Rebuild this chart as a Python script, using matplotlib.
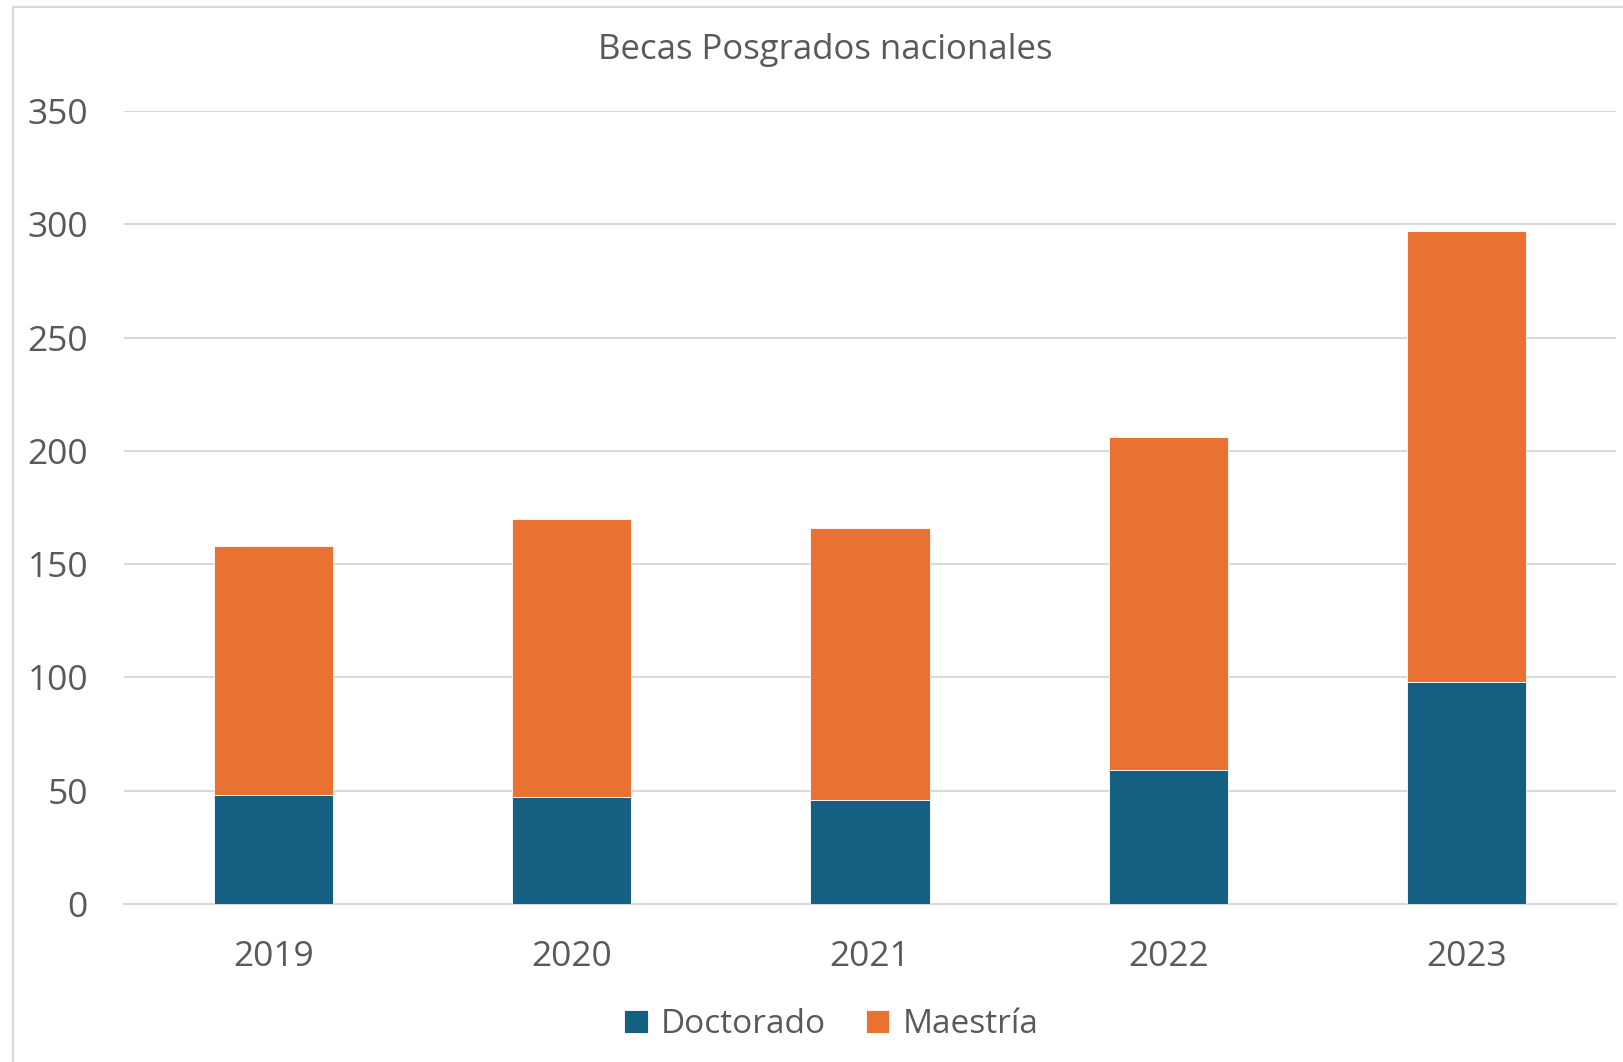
import numpy as np
import matplotlib.pyplot as plt
from matplotlib.patches import Rectangle

years = ["2019", "2020", "2021", "2022", "2023"]
doctorado = [48, 47, 46, 59, 98]
maestria = [110, 123, 120, 147, 199]

blue = "#156082"
orange = "#E97132"
grey_text = "#595959"

plt.rcParams['font.family'] = ['Open Sans', 'DejaVu Sans']

fig = plt.figure(figsize=(16.24, 10.62), dpi=100)
ax = fig.add_axes([0.0764, 0.1488, 0.9186, 0.7467])

x = np.arange(len(years))
ax.bar(x, doctorado, width=0.4, color=blue, label="Doctorado", zorder=3,
       edgecolor="white", linewidth=0.6)
ax.bar(x, maestria, width=0.4, bottom=doctorado, color=orange, label="Maestría",
       zorder=3, edgecolor="white", linewidth=0.6)

ax.set_xlim(-0.5, 4.5)
ax.set_ylim(0, 350)
ax.set_yticks(range(0, 351, 50))
ax.set_xticks(x)
ax.set_xticklabels(years)
ax.yaxis.grid(True, color="#D9D9D9", linewidth=1.5, zorder=0)
ax.set_axisbelow(True)
for s in ["top", "right", "left"]:
    ax.spines[s].set_visible(False)
ax.spines["bottom"].set_color("#D9D9D9")
ax.spines["bottom"].set_linewidth(1.5)
ax.tick_params(axis="both", length=0, labelsize=25.5, colors=grey_text)
ax.tick_params(axis="y", pad=26)
ax.tick_params(axis="x", pad=26)

fig.text(0.508, 0.953, "Becas Posgrados nacionales", ha="center", va="center",
         fontsize=25, color=grey_text)

fig.legend(loc="center", bbox_to_anchor=(0.512, 0.035), ncol=2, frameon=False,
           fontsize=24, labelcolor=grey_text, handlelength=0.7, handleheight=0.7,
           handletextpad=0.4, columnspacing=1.2)

# light border around the chart area
fig.patches.append(Rectangle((13 / 1624, -0.1), 1.2, 1.1 - 7 / 1062,
                             transform=fig.transFigure, fill=False,
                             edgecolor="#D9D9D9", linewidth=1.5))

fig.savefig("out.png", dpi=100, facecolor="white")
